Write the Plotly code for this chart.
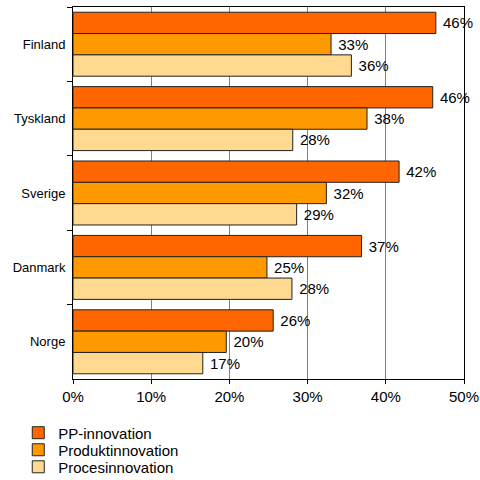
import plotly.graph_objects as go

# Data (shares in %)
countries = ["Finland", "Tyskland", "Sverige", "Danmark", "Norge"]
pp_innovation = [46.4, 46.0, 41.7, 36.9, 25.6]
produkt_innovation = [33.0, 37.6, 32.4, 24.8, 19.6]
proces_innovation = [35.6, 28.1, 28.6, 28.0, 16.6]
x_ticks = [0, 10, 20, 30, 40, 50]

series = [
    ("PP-innovation", pp_innovation, "#FF6600", "legend"),
    ("Produktinnovation", produkt_innovation, "#FF9900", "legend2"),
    ("Procesinnovation", proces_innovation, "#FFD98F", "legend3"),
]

fig = go.Figure()
for name, vals, color, leg in series:
    fig.add_trace(go.Bar(
        y=countries, x=vals, name=name, orientation="h", legend=leg,
        marker=dict(color=color, line=dict(color="#222222", width=1)),
        text=[f" {v:.0f}%" for v in vals], textposition="outside",
        constraintext="none",
        textfont=dict(size=15, color="black"), cliponaxis=False,
    ))

# one legend per series so the rows can sit as tightly as in the original
legend_style = dict(x=-0.14, xanchor="left", yanchor="middle", yref="container",
                    font=dict(size=15), itemwidth=30, bgcolor="rgba(0,0,0,0)")
fig.update_layout(
    width=480, height=480,
    margin=dict(l=73, r=16, t=7, b=101),
    barmode="group", bargap=0.14, bargroupgap=0,
    plot_bgcolor="white", paper_bgcolor="white",
    font=dict(family="Liberation Sans, Arial, sans-serif", size=13, color="black"),
    showlegend=True,
    legend=dict(y=0.098, **legend_style),
    legend2=dict(y=0.0625, **legend_style),
    legend3=dict(y=0.027, **legend_style),
)
fig.update_xaxes(
    range=[0, 50], tickvals=x_ticks, ticktext=[f"{t}%" for t in x_ticks],
    showgrid=True, gridcolor="#808080", gridwidth=1,
    showline=True, linecolor="black", mirror=True,
    ticks="outside", ticklen=4, tickcolor="black",
    tickfont=dict(size=15), zeroline=False, automargin=False,
)
fig.update_yaxes(
    autorange="reversed", showline=True, linecolor="black", mirror=True,
    ticks="outside", tickson="boundaries", ticklen=5, tickcolor="black",
    tickfont=dict(size=13), ticklabelstandoff=4, automargin=False,
)

# drop the default body margin so the 480x480 figure fills the window
fig.write_html(
    "out.html",
    config={"displayModeBar": False},
    post_script="document.body.style.margin='0';document.body.style.overflow='hidden';",
)
